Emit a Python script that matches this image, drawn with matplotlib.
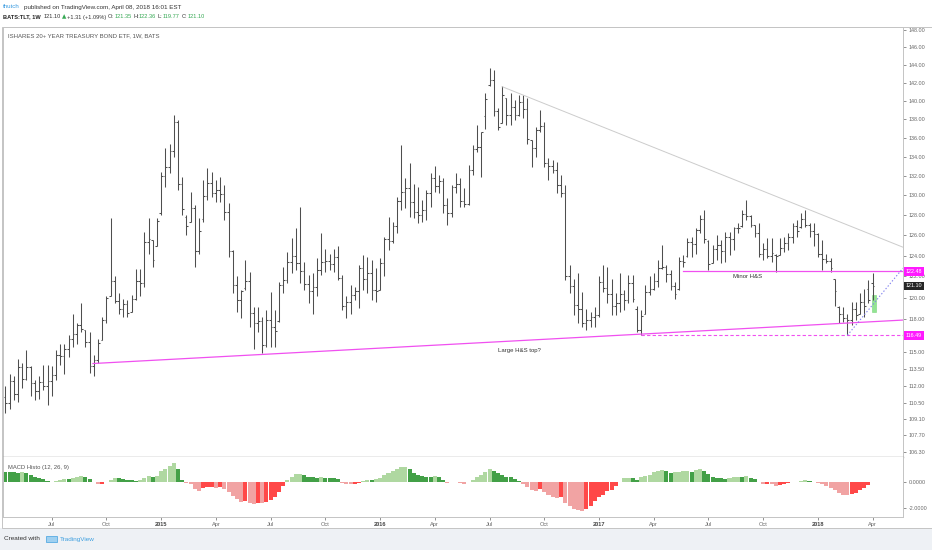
import numpy as np
import pandas as pd
import matplotlib
matplotlib.use("Agg")
import matplotlib.pyplot as plt
from matplotlib.patches import Rectangle
from matplotlib.ticker import NullLocator

plt.rcParams['font.family'] = ['Liberation Sans', 'DejaVu Sans']

# weekly TLT bars, first bar week of 2014-04-21, last bar week of 2018-04-02
first_week = '2014-04-21'

highs = [112.0, 113.0, 112.8, 114.4, 114.0, 115.2, 113.7, 112.5, 112.8, 113.85,
         113.85, 113.7, 115.15, 115.75, 115.75, 116.5, 118.5, 117.6, 119.45, 117.0,
         116.8, 114.7, 116.2, 118.2, 120.1, 127.7, 122.0, 120.4, 119.9, 119.8,
         120.25, 122.75, 122.75, 126.35, 127.7, 125.5, 127.7, 132.45, 134.9, 135.4,
         138.45, 137.9, 131.9, 128.0, 130.4, 129.0, 127.7, 131.55, 132.8, 132.45,
         131.55, 131.9, 131.05, 129.2, 124.55, 122.0, 120.7, 123.6, 122.45, 119.1,
         119.1, 118.2, 118.8, 120.55, 118.8, 121.5, 122.9, 124.4, 125.7, 126.7,
         128.85, 123.4, 122.15, 122.3, 123.75, 126.2, 124.7, 124.2, 124.7, 124.9,
         122.15, 120.1, 121.2, 121.0, 123.1, 124.05, 123.9, 123.6, 122.8, 123.75,
         125.85, 127.85, 127.35, 129.85, 135.25, 131.75, 133.3, 131.2, 130.9, 129.5,
         130.55, 132.3, 133.0, 132.1, 131.75, 129.7, 131.05, 132.3, 131.75, 130.75,
         133.15, 135.25, 137.35, 136.65, 140.85, 143.65, 143.45, 139.2, 141.6, 140.3,
         140.85, 140.1, 140.65, 140.65, 140.3, 135.8, 137.2, 139.0, 137.75, 133.85,
         133.65, 133.5, 132.1, 131.05, 123.1, 121.8, 122.3, 120.5, 118.95, 118.65,
         119.1, 122.0, 123.1, 122.95, 121.8, 120.4, 122.3, 120.7, 122.15, 122.15,
         119.25, 118.8, 121.2, 122.0, 122.3, 123.6, 125.0, 123.1, 122.6, 121.5,
         123.9, 124.05, 125.7, 125.85, 126.7, 128.0, 128.5, 125.5, 125.0, 126.0,
         125.5, 126.3, 126.35, 126.85, 127.2, 128.5, 129.5, 128.0, 127.0, 127.2,
         125.2, 125.7, 125.7, 124.2, 125.7, 125.85, 126.2, 127.2, 127.5, 128.2,
         128.5, 127.2, 127.2, 126.2, 125.5, 124.2, 123.75, 121.8, 119.25, 119.1,
         118.5, 119.6, 119.6, 120.4, 120.85, 121.7, 122.36]

lows = [109.6, 110.0, 110.7, 110.6, 111.75, 112.5, 111.1, 110.7, 110.8, 111.6,
        110.3, 111.1, 112.5, 113.85, 113.0, 114.55, 115.45, 115.75, 116.8, 115.45,
        113.15, 112.8, 114.0, 116.05, 117.6, 120.1, 119.45, 118.5, 118.2, 118.2,
        118.65, 119.8, 120.1, 121.0, 124.2, 122.9, 124.9, 128.0, 130.9, 132.3,
        134.0, 130.55, 128.0, 126.0, 127.35, 122.9, 124.2, 127.35, 129.5, 129.85,
        129.35, 129.35, 127.5, 123.9, 120.4, 118.65, 118.05, 120.7, 117.3, 115.3,
        116.8, 114.85, 115.45, 115.45, 115.45, 117.75, 120.4, 121.35, 122.3, 122.6,
        121.35, 120.7, 119.45, 118.5, 120.1, 122.15, 122.45, 122.6, 122.45, 121.65,
        118.8, 118.05, 118.5, 119.8, 119.0, 120.7, 120.4, 119.8, 119.6, 120.7,
        122.0, 124.55, 125.2, 126.2, 128.5, 128.7, 127.85, 127.7, 127.2, 127.35,
        127.5, 128.85, 130.4, 130.25, 128.2, 127.0, 127.85, 130.25, 128.85, 128.85,
        129.0, 132.1, 134.55, 131.9, 137.0, 141.6, 138.35, 136.85, 137.55, 137.35,
        137.35, 137.9, 138.35, 138.1, 135.4, 132.95, 134.0, 136.65, 132.95, 131.6,
        132.3, 130.25, 129.85, 121.65, 120.4, 118.35, 117.6, 117.3, 116.95, 117.3,
        117.3, 118.2, 120.55, 119.45, 118.35, 118.35, 118.65, 118.8, 119.45, 119.6,
        116.8, 116.5, 118.5, 120.25, 120.7, 121.0, 122.75, 121.5, 120.7, 119.9,
        120.7, 122.9, 123.9, 123.9, 124.2, 126.2, 125.2, 122.6, 123.25, 123.6,
        123.25, 123.4, 124.05, 124.55, 126.2, 126.85, 127.5, 126.85, 125.85, 123.9,
        123.6, 123.75, 123.4, 122.45, 124.05, 124.4, 124.55, 125.2, 125.85, 126.7,
        126.85, 125.85, 124.9, 123.9, 122.6, 123.25, 122.45, 119.25, 117.6, 117.75,
        116.5, 117.45, 117.9, 118.5, 118.2, 119.5, 119.77]

opens = [111.0, 110.5, 112.4, 111.3, 113.6, 112.6, 113.6, 112.2, 111.5, 112.3,
         112.0, 112.4, 112.9, 114.7, 114.6, 115.3, 116.2, 116.6, 117.4, 117.1,
         115.9, 113.7, 114.3, 115.8, 117.9, 120.0, 121.6, 119.7, 118.9, 119.4,
         118.6, 119.9, 121.6, 121.4, 125.3, 125.6, 123.6, 128.2, 132.0, 132.9,
         134.6, 137.7, 131.2, 127.8, 126.9, 128.7, 124.5, 127.6, 129.9, 131.3,
         130.3, 130.6, 130.1, 128.3, 124.5, 121.2, 119.8, 120.9, 121.6, 118.6,
         117.6, 117.8, 115.6, 117.9, 117.3, 117.8, 121.2, 121.7, 123.4, 124.0,
         123.3, 122.5, 121.3, 120.6, 121.0, 122.6, 123.4, 123.5, 123.2, 123.9,
         121.9, 119.2, 119.6, 120.2, 120.6, 122.8, 121.8, 122.3, 120.7, 120.6,
         123.3, 125.6, 125.4, 126.9, 129.4, 130.4, 130.8, 129.3, 128.3, 128.0,
         128.5, 130.2, 131.8, 131.0, 131.5, 129.0, 128.2, 130.9, 131.2, 129.4,
         129.1, 132.6, 134.8, 135.0, 138.3, 141.8, 142.3, 138.9, 137.2, 140.6,
         138.5, 139.3, 138.5, 139.9, 139.1, 135.9, 134.9, 136.8, 137.3, 133.4,
         133.0, 132.6, 131.1, 130.3, 122.0, 121.1, 119.3, 118.9, 117.6, 117.9,
         118.2, 118.4, 121.5, 120.9, 120.3, 119.2, 119.5, 120.3, 119.8, 121.4,
         118.9, 117.0, 118.3, 120.5, 120.8, 121.6, 122.8, 122.9, 122.2, 121.1,
         120.8, 123.5, 124.0, 125.3, 125.1, 126.5, 127.6, 125.4, 123.3, 124.7,
         125.0, 124.5, 125.8, 125.6, 126.7, 126.9, 128.1, 127.9, 127.0, 126.2,
         124.2, 124.7, 124.0, 124.1, 124.1, 124.8, 125.2, 125.8, 126.9, 126.8,
         127.6, 127.0, 126.4, 126.1, 124.2, 123.7, 123.5, 121.8, 119.1, 118.5,
         118.1, 117.9, 118.9, 118.4, 119.6, 120.8, 121.35]

closes = [110.5, 112.4, 111.3, 113.6, 112.6, 113.6, 112.2, 111.5, 112.3, 112.0,
          112.4, 112.9, 114.7, 114.6, 115.3, 116.2, 116.6, 117.4, 117.1, 115.9,
          113.7, 114.3, 115.8, 117.9, 120.0, 121.6, 119.7, 118.9, 119.4, 118.6,
          119.9, 121.6, 121.4, 125.3, 125.6, 123.6, 127.4, 132.0, 132.9, 134.6,
          137.7, 131.2, 128.6, 126.9, 128.7, 124.5, 126.4, 129.9, 131.3, 130.3,
          130.6, 130.1, 128.3, 124.5, 121.2, 119.8, 120.6, 121.6, 118.6, 117.6,
          117.8, 115.6, 117.9, 117.3, 116.9, 121.2, 121.7, 123.4, 124.0, 123.3,
          122.5, 121.3, 120.6, 121.0, 122.6, 123.4, 123.5, 123.2, 123.9, 121.9,
          119.2, 119.6, 120.2, 120.6, 122.8, 121.8, 122.3, 120.7, 120.6, 123.3,
          125.6, 125.4, 126.9, 129.4, 130.4, 130.8, 129.3, 128.3, 128.0, 128.5,
          130.2, 131.8, 131.0, 131.5, 129.0, 128.2, 130.9, 131.2, 129.4, 129.1,
          132.6, 134.8, 135.0, 136.6, 140.2, 142.3, 138.9, 137.2, 140.6, 138.5,
          139.3, 138.5, 139.9, 139.1, 135.9, 134.9, 136.8, 137.3, 133.4, 133.0,
          132.6, 131.1, 130.3, 122.0, 121.1, 119.3, 118.9, 117.6, 117.9, 118.2,
          118.4, 121.5, 120.9, 120.3, 119.2, 119.5, 120.3, 119.8, 121.4, 119.9,
          117.0, 118.3, 120.5, 120.8, 121.6, 122.8, 122.9, 122.2, 121.1, 120.3,
          123.5, 123.4, 125.3, 125.1, 126.5, 127.6, 125.6, 123.2, 124.7, 125.0,
          124.5, 125.8, 125.6, 126.7, 126.7, 128.1, 127.9, 127.0, 126.2, 124.2,
          124.7, 124.0, 124.3, 124.0, 124.8, 125.2, 125.8, 126.9, 126.4, 127.6,
          127.0, 126.4, 126.1, 124.2, 123.7, 123.5, 122.8, 120.6, 118.5, 118.1,
          117.9, 118.9, 118.4, 119.6, 119.2, 119.79, 121.10]

macd_hist = [0.72, 0.72, 0.72, 0.65, 0.72, 0.70, 0.50, 0.40, 0.30, 0.20,
             0.05, -0.05, 0.02, 0.10, 0.22, 0.20, 0.25, 0.35, 0.42, 0.40,
             0.20, -0.05, -0.18, -0.15, -0.05, 0.15, 0.30, 0.25, 0.20, 0.15,
             0.10, 0.08, 0.10, 0.30, 0.45, 0.35, 0.45, 0.80, 1.00, 1.20,
             1.45, 1.00, 0.10, -0.10, -0.20, -0.55, -0.75, -0.45, -0.40, -0.40,
             -0.45, -0.40, -0.55, -0.80, -1.10, -1.30, -1.55, -1.52, -1.65, -1.70,
             -1.60, -1.65, -1.55, -1.40, -1.15, -0.80, -0.30, 0.15, 0.40, 0.60,
             0.62, 0.55, 0.40, 0.35, 0.30, 0.35, 0.30, 0.30, 0.28, 0.20,
             -0.10, -0.15, -0.20, -0.15, -0.10, 0.05, 0.15, 0.12, 0.20, 0.30,
             0.50, 0.65, 0.85, 1.00, 1.10, 1.12, 0.95, 0.70, 0.55, 0.45,
             0.40, 0.40, 0.45, 0.40, 0.10, -0.10, -0.05, -0.05, -0.10, -0.15,
             -0.05, 0.15, 0.35, 0.55, 0.75, 1.00, 0.80, 0.70, 0.50, 0.40,
             0.35, 0.20, 0.05, -0.15, -0.40, -0.60, -0.70, -0.55, -0.80, -1.00,
             -1.15, -1.25, -1.20, -1.60, -1.90, -2.10, -2.20, -2.23, -2.10, -1.90,
             -1.50, -1.20, -1.00, -0.75, -0.60, -0.30, -0.05, 0.25, 0.30, 0.28,
             0.15, 0.35, 0.45, 0.55, 0.75, 0.85, 0.90, 0.85, 0.70, 0.74,
             0.75, 0.80, 0.82, 0.78, 0.90, 1.00, 0.80, 0.60, 0.40, 0.30,
             0.25, 0.22, 0.30, 0.35, 0.38, 0.35, 0.45, 0.30, 0.20, 0.00,
             -0.15, -0.15, -0.20, -0.30, -0.25, -0.15, -0.12, -0.05, 0.00, 0.08,
             0.15, 0.05, 0.00, -0.10, -0.20, -0.30, -0.45, -0.60, -0.85, -1.00,
             -1.05, -0.95, -0.85, -0.65, -0.45, -0.25, -0.05]

price_ticks = [148, 146, 144, 142, 140, 138, 136, 134, 132, 130, 128, 126, 124,
               122, 120, 118, 115.0, 113.5, 112.0, 110.5, 109.1, 107.7, 106.3]

# chart drawings (bar index, price)
large_hs = ([20.8, 213.2], [113.95, 117.9])
gray_trend = ([118.0, 213.2], [141.57, 124.83])
blue_trend = ([200.0, 213.2], [116.5, 122.8])
minor_hs_level = 122.48
minor_hs_start = 161.0
low_level = 116.49
low_level_start = 151.0
last_close = 121.10

n = len(closes)
assert len(highs) == n and len(lows) == n and len(opens) == n and len(macd_hist) == n

x = np.arange(n)
hi = np.array(highs)
lo = np.array(lows)
op = np.clip(np.array(opens), lo, hi)
cl = np.clip(np.array(closes), lo, hi)
hist = np.array(macd_hist)
dates = pd.date_range(first_week, periods=n, freq='W-MON')

W, H = 932, 550


def fx(px):
    return px / W


def fy(py):
    return 1 - py / H


fig = plt.figure(figsize=(W / 100, H / 100), dpi=100)
fig.patch.set_facecolor('white')

# footer strip
fig.patches.append(Rectangle((0, 0), 1, fy(528), transform=fig.transFigure,
                             fc='#eef1f5', ec='none', zorder=0))

left, right = 2.5, 903
ax = fig.add_axes([fx(left), fy(456.5), fx(right - left), (456.5 - 26.5) / H])
axm = fig.add_axes([fx(left), fy(517), fx(right - left), (517 - 456.5) / H], sharex=ax)

xmin = (left - 5.4) / 4.21
xmax = (right - 5.4) / 4.21
ax.set_xlim(xmin, xmax)

bar_col = '#4e4e4e'
ax.vlines(x, lo, hi, color=bar_col, lw=0.75)
ax.hlines(op, x - 0.4, x, color=bar_col, lw=0.75)
ax.hlines(cl, x, x + 0.4, color=bar_col, lw=0.75)

ax.set_yscale('log')
ax.set_ylim(105.94, 148.41)
ax.yaxis.tick_right()
ax.set_yticks(price_ticks)
ax.set_yticklabels(['%.2f' % t for t in price_ticks])
ax.yaxis.set_minor_locator(NullLocator())
ax.tick_params(axis='y', which='both', length=2.5, width=0.5, colors='#666666',
               labelsize=3.9, pad=1.5)
ax.tick_params(axis='x', which='both', bottom=False, labelbottom=False)
for s in ax.spines.values():
    s.set_color('#c4c4c4')
    s.set_linewidth(0.7)
ax.spines['bottom'].set_color('#9a9a9a')
ax.spines['bottom'].set_linewidth(1.0)

# drawings
mag = '#f050f0'
ax.plot(*large_hs, color=mag, lw=0.9)
ax.plot([minor_hs_start, xmax], [minor_hs_level] * 2, color=mag, lw=0.9)
ax.plot([low_level_start, xmax], [low_level] * 2, color=mag, lw=0.8, ls=(0, (3, 2)))
ax.plot(*gray_trend, color='#cccccc', lw=0.7)
ax.plot(*blue_trend, color='#8080ee', lw=0.8, ls=(0, (1.2, 1.8)))
ax.add_patch(Rectangle((205.95, 118.65), 0.95, 1.6, fc='#93e493', ec='#7cd67c', lw=0.4))

ax.text((733 - 5.4) / 4.21, 121.95, 'Minor H&S', fontsize=4.3, color='#333333',
        ha='left', va='center')
ax.text(122.2, 115.16, 'Large H&S top?', fontsize=4.3, color='#333333',
        ha='center', va='center')

# price labels on the scale
ytr = ax.get_yaxis_transform()
for val, col in [(minor_hs_level, '#ff1aff'), (last_close, '#262626'), (low_level, '#ff1aff')]:
    ax.text(1.003, val, '%.2f' % val, transform=ytr, fontsize=3.9, color='white',
            ha='left', va='center', clip_on=False, zorder=5,
            bbox=dict(boxstyle='square,pad=0.35', fc=col, ec='none'))

# MACD panel
dark_g, light_g, red, pink = '#43a047', '#afd8a1', '#ff4848', '#f1a3a3'
cols = []
for i, v in enumerate(hist):
    d = v - hist[i - 1] if i > 0 else -1
    if v >= 0:
        cols.append(light_g if d > 0 else dark_g)
    else:
        cols.append(pink if d < 0 else red)
axm.bar(x, hist, width=0.96, color=cols, lw=0)
axm.set_ylim(-2.715, 1.94)
axm.yaxis.tick_right()
axm.set_yticks([0, -2])
axm.set_yticklabels(['0.0000', '-2.0000'])
axm.tick_params(axis='y', length=2.5, width=0.5, colors='#666666', labelsize=3.9, pad=1.5)
for s in axm.spines.values():
    s.set_color('#c4c4c4')
    s.set_linewidth(0.7)
axm.spines['top'].set_visible(False)

tick_pos, tick_lab = [], []
for i in range(1, n):
    m = dates[i].month
    if m != dates[i - 1].month and m in (1, 4, 7, 10):
        tick_pos.append(i)
        tick_lab.append(str(dates[i].year) if m == 1 else dates[i].strftime('%b'))
axm.set_xticks(tick_pos)
axm.set_xticklabels(tick_lab)
axm.tick_params(axis='x', length=2, width=0.5, colors='#666666', labelsize=4.1, pad=1.5)
for lab in axm.get_xticklabels():
    if lab.get_text().isdigit():
        lab.set_fontweight('bold')
        lab.set_color('#444444')

axm.text(0.006, 0.82, 'MACD Histo (12, 26, 9)', transform=axm.transAxes,
         fontsize=4.2, color='#555555', ha='left', va='center')

# outer frame
fig.patches.append(Rectangle((fx(1.5), fy(528)), fx(930), (528 - 26.5) / H,
                             transform=fig.transFigure, fc='none', ec='#c4c4c4', lw=0.7))

# header
fig.text(fx(8), fy(36), 'ISHARES 20+ YEAR TREASURY BOND ETF, 1W, BATS', fontsize=4.3,
         color='#555555', va='center')
fig.text(fx(3), fy(7), 'thutch', fontsize=4.5, color='#3a9be0', va='center')
fig.text(fx(24), fy(7), 'published on TradingView.com, April 08, 2018 16:01 EST',
         fontsize=4.5, color='#333333', va='center')

green = '#35a853'
hdr = [('BATS:TLT, 1W', '#222222', 'bold', 3.0), ('121.10', '#333333', 'normal', 1.0),
       ('\u25b2', green, 'normal', 1.0), ('+1.31 (+1.09%)', '#333333', 'normal', 1.5),
       ('O:', '#333333', 'normal', 0.3), ('121.35', green, 'normal', 1.5),
       ('H:', '#333333', 'normal', 0.3), ('122.36', green, 'normal', 1.5),
       ('L:', '#333333', 'normal', 0.3), ('119.77', green, 'normal', 1.5),
       ('C:', '#333333', 'normal', 0.3), ('121.10', green, 'normal', 0)]
renderer = fig.canvas.get_renderer()
cur = 3.0
for txt, col, wt, gap in hdr:
    fam = ['DejaVu Sans'] if txt == '\u25b2' else ['Liberation Sans', 'DejaVu Sans']
    t = fig.text(fx(cur), fy(17), txt, fontsize=4.1, color=col, fontweight=wt,
                 va='center', family=fam)
    cur += t.get_window_extent(renderer).width + gap

# footer
fig.text(fx(4), fy(539), 'Created with', fontsize=4.6, color='#333333', va='center')
fig.text(fx(60), fy(539), 'TradingView', fontsize=4.6, color='#3fa0e0', va='center')
fig.patches.append(Rectangle((fx(46), fy(542)), fx(11), 6 / H, transform=fig.transFigure,
                             fc='#9fd0f0', ec='#3fa0e0', lw=0.5))

fig.savefig('out.png', dpi=100)
